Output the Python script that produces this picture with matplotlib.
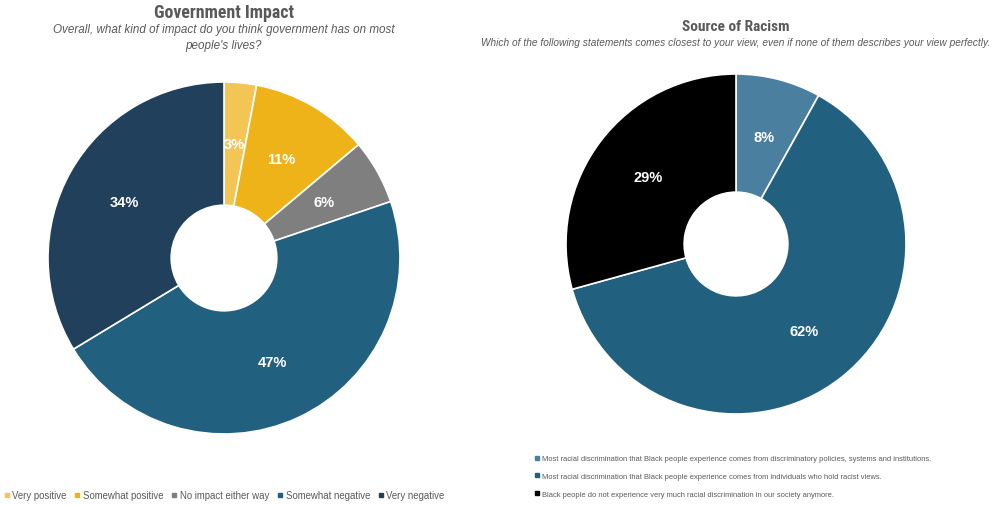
import matplotlib.pyplot as plt
from matplotlib.lines import Line2D
from matplotlib import font_manager

# Government Impact (left donut)
gov_labels = ["Very positive", "Somewhat positive", "No impact either way",
              "Somewhat negative", "Very negative"]
gov_values = [3, 11, 6, 47, 34]
gov_colors = ["#F2C554", "#EDB318", "#7F7F7F", "#22607F", "#20405C"]

# Source of Racism (right donut)
rac_labels = [
    "Most racial discrimination that Black people experience comes from discriminatory policies, systems and institutions.",
    "Most racial discrimination that Black people experience comes from individuals who hold racist views.",
    "Black people do not experience very much racial discrimination in our society anymore.",
]
rac_values = [8, 62, 29]
rac_colors = ["#4A7F9F", "#22607F", "#000000"]

plt.rcParams["font.family"] = ["Liberation Sans", "DejaVu Sans"]

# condensed face for the titles, if one is around
faces = {(f.name, f.stretch) for f in font_manager.fontManager.ttflist}
names = {n for n, _ in faces}
title_font = dict(family="Liberation Sans", fontstretch="normal")
for cand in ["Roboto Condensed", "Liberation Sans Narrow", "Open Sans Condensed"]:
    if cand in names:
        title_font = dict(family=cand, fontstretch="normal")
        break
else:
    if ("DejaVu Sans", "condensed") in faces or ("DejaVu Sans", 500) in faces:
        title_font = dict(family="DejaVu Sans", fontstretch="condensed")

W, H = 990, 506
fig = plt.figure(figsize=(W / 100, H / 100), dpi=100)


def donut(cx, cy, r, values, colors, hole):
    ax = fig.add_axes([(cx - r) / W, (H - cy - r) / H, 2 * r / W, 2 * r / H])
    total = sum(values)
    ax.pie(values, colors=colors, startangle=90, counterclock=False, radius=1,
           autopct=lambda p: f"{p * total / 100:.0f}%", pctdistance=0.65,
           wedgeprops=dict(width=1 - hole, edgecolor="white", linewidth=1.2),
           textprops=dict(color="white", fontweight="bold", fontsize=10.5))
    ax.set_xlim(-1, 1)
    ax.set_ylim(-1, 1)
    ax.set_aspect("equal")
    ax.axis("off")
    return ax


donut(224, 259, 176, gov_values, gov_colors, 0.30)
donut(736, 245, 170, rac_values, rac_colors, 0.305)

# titles
fig.text(224 / W, 1 - 13 / H, "Government Impact", ha="center", va="center",
         fontsize=12.9, fontweight="bold", color="#595959", **title_font)
fig.text(224 / W, 1 - 38 / H,
         "Overall, what kind of impact do you think government has on most\npeople's lives?",
         ha="center", va="center", fontsize=8.4, style="italic", color="#595959",
         linespacing=1.45)
fig.text(736 / W, 1 - 27 / H, "Source of Racism", ha="center", va="center",
         fontsize=11.1, fontweight="bold", color="#595959", **title_font)
fig.text(736 / W, 1 - 43 / H,
         "Which of the following statements comes closest to your view, even if none of them describes your view perfectly.",
         ha="center", va="center", fontsize=7.3, style="italic", color="#595959")

# legends
h1 = [Line2D([], [], marker="s", ls="", color=c, markersize=3.5) for c in gov_colors]
fig.legend(h1, gov_labels, loc="center left", bbox_to_anchor=(0 / W, 1 - 496 / H),
           ncol=5, frameon=False, fontsize=6.9, handlelength=0.6, handletextpad=0.3,
           columnspacing=0.8, labelcolor="#595959", borderaxespad=0)

h2 = [Line2D([], [], marker="s", ls="", color=c, markersize=3) for c in rac_colors]
fig.legend(h2, rac_labels, loc="upper left", bbox_to_anchor=(532 / W, 1 - 453 / H),
           ncol=1, frameon=False, fontsize=5.4, handlelength=0.6, handletextpad=0.3,
           labelspacing=1.4, labelcolor="#595959", borderaxespad=0)

fig.savefig("out.png", dpi=100, facecolor="white")
